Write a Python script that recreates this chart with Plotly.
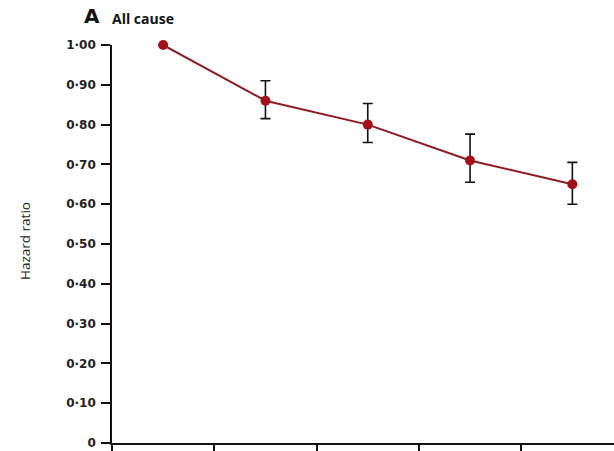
import plotly.graph_objects as go

# Data
positions = [0.5, 1.5, 2.5, 3.5, 4.5]
hazard_ratio = [1.00, 0.86, 0.80, 0.71, 0.65]
ci_lower = [1.00, 0.815, 0.755, 0.655, 0.60]
ci_upper = [1.00, 0.91, 0.853, 0.776, 0.705]
y_tickvals = [0, 0.1, 0.2, 0.3, 0.4, 0.5, 0.6, 0.7, 0.8, 0.9, 1.0]
y_ticktext = ["0", "0·10", "0·20", "0·30", "0·40", "0·50", "0·60", "0·70", "0·80", "0·90", "1·00"]
x_tickvals = [0, 1, 2, 3, 4, 5]

err_plus = [u - h for u, h in zip(ci_upper, hazard_ratio)]
err_minus = [h - l for h, l in zip(hazard_ratio, ci_lower)]

fig = go.Figure()
fig.add_trace(go.Scatter(
    x=positions, y=hazard_ratio,
    mode="lines+markers",
    line=dict(color="#8E1B22", width=2),
    marker=dict(color="#A3101C", size=10),
    error_y=dict(type="data", symmetric=False, array=err_plus, arrayminus=err_minus,
                 color="#111111", thickness=1.6, width=5),
    cliponaxis=False,
    showlegend=False,
))

fig.update_layout(
    width=614, height=451,
    margin=dict(l=112, r=0, t=45, b=8),
    paper_bgcolor="white", plot_bgcolor="white",
    xaxis=dict(range=[0, 4.907], showgrid=False, zeroline=False,
               showline=True, linecolor="#111111", linewidth=1.6,
               ticks="outside", ticklen=8, tickwidth=1.6, tickcolor="#111111",
               tickvals=x_tickvals, showticklabels=False),
    yaxis=dict(range=[0, 1.0], showgrid=False, zeroline=False,
               showline=True, linecolor="#111111", linewidth=1.6,
               ticks="outside", ticklen=9, tickwidth=1.6, tickcolor="#111111",
               tickvals=y_tickvals, ticktext=y_ticktext, ticklabelstandoff=3,
               tickfont=dict(family="DejaVu Sans", size=12, color="#222222", weight="bold")),
    annotations=[
        dict(text="A", xref="paper", yref="paper", x=(82 - 112) / 502, y=1 + (45 - 30) / 398,
             xanchor="left", yanchor="bottom", showarrow=False,
             font=dict(family="DejaVu Sans", size=20, color="#111111", weight="bold")),
        dict(text="All cause", xref="paper", yref="paper", x=(110 - 112) / 502, y=1 + (45 - 30) / 398,
             xanchor="left", yanchor="bottom", showarrow=False,
             font=dict(family="Open Sans", size=14, color="#111111", weight="bold")),
        dict(text="Hazard ratio", xref="paper", yref="paper", x=(25 - 112) / 502, y=(443 - 241) / 398,
             xanchor="center", yanchor="middle", textangle=-90, showarrow=False,
             font=dict(family="Open Sans", size=13.5, color="#222222")),
    ],
)

fig.write_html("out.html", config={"displayModeBar": False},
               post_script="document.body.style.margin='0';")
